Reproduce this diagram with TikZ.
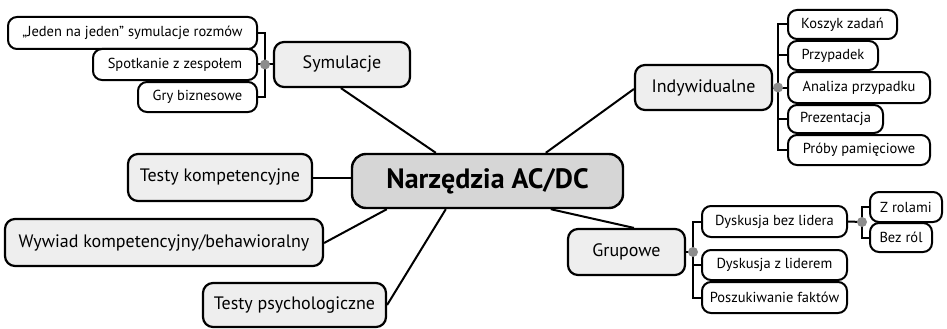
\documentclass[tikz,border=0pt]{standalone}
\usepackage{fontspec}
\setmainfont{PT Sans}
\definecolor{mainfill}{RGB}{238,238,238}
\definecolor{ctrfill}{RGB}{214,214,214}
\definecolor{dotc}{RGB}{140,140,140}
\begin{document}
\begin{tikzpicture}[x=1pt,y=-1pt,
  mainbox/.style={draw=black,line width=2.2pt,rounded corners=10pt,fill=mainfill,inner sep=0pt,font=\fontsize{18}{20}\selectfont},
  ctrbox/.style={draw=black,line width=2.4pt,rounded corners=14pt,fill=ctrfill,inner sep=0pt,font=\fontsize{28}{30}\selectfont\bfseries},
  subbox/.style={draw=black,line width=2pt,rounded corners=9pt,fill=white,inner sep=0pt,font=\fontsize{14.5}{16}\selectfont},
  conn/.style={line width=2pt},
  brk/.style={line width=2pt},
  dotst/.style={fill=dotc}]
\useasboundingbox (0,0) rectangle (947,329);
% subtree boxes first (so overlaps look right)
\node[subbox,minimum width=249pt,minimum height=32pt] (s1) at (132.5,33) {„Jeden na jeden” symulacje rozmów};
\node[subbox,minimum width=164pt,minimum height=31pt] (s2) at (175,64.5) {Spotkanie z zespołem};
\node[subbox,minimum width=119pt,minimum height=30pt] (s3) at (197.5,97) {Gry biznesowe};

\node[subbox,minimum width=109pt,minimum height=29pt] (i1) at (842.5,24.5) {Koszyk zadań};
\node[subbox,minimum width=90pt,minimum height=29pt] (i2) at (833,55.5) {Przypadek};
\node[subbox,minimum width=142pt,minimum height=31pt] (i3) at (859,87.5) {Analiza przypadku};
\node[subbox,minimum width=95pt,minimum height=28pt] (i4) at (835.5,119) {Prezentacja};
\node[subbox,minimum width=142pt,minimum height=30pt] (i5) at (859,150) {Próby pamięciowe};

\node[subbox,minimum width=145pt,minimum height=31pt] (g1) at (774.5,221.5) {Dyskusja bez lidera};
\node[subbox,minimum width=145pt,minimum height=30pt] (g2) at (774.5,265) {Dyskusja z liderem};
\node[subbox,minimum width=145pt,minimum height=31pt] (g3) at (774.5,297.5) {Poszukiwanie faktów};

\node[subbox,minimum width=72pt,minimum height=30pt] (z1) at (906,207) {Z rolami};
\node[subbox,minimum width=62pt,minimum height=29pt] (z2) at (901,237.5) {Bez ról};

% main nodes
\node[ctrbox,minimum width=271pt,minimum height=54pt] (ctr) at (487.5,181) {Narzędzia AC/DC};
\node[mainbox,minimum width=136pt,minimum height=45pt] (sym) at (342,64.5) {Symulacje};
\node[mainbox,minimum width=137pt,minimum height=45pt] (ind) at (703.5,87.5) {Indywidualne};
\node[mainbox,minimum width=117pt,minimum height=46pt] (grp) at (626.5,252) {Grupowe};
\node[mainbox,minimum width=184pt,minimum height=47pt] (tk) at (220,177.5) {Testy kompetencyjne};
\node[mainbox,minimum width=318pt,minimum height=47pt] (wy) at (164,242.5) {Wywiad kompetencyjny/behawioralny};
\node[mainbox,minimum width=183pt,minimum height=44pt] (tp) at (294.5,305) {Testy psychologiczne};

% connectors centre -> main
\draw[conn] ([xshift=68pt]sym.south west) -- ([xshift=85pt]ctr.north west);
\draw[conn] ([xshift=195pt]ctr.north west) -- ([yshift=-1.5pt]ind.west);
\draw[conn] (tk.east) -- (tk.east -| ctr.west);
\draw[conn] ([xshift=36pt]ctr.south west) -- ([yshift=-0.5pt]wy.east);
\draw[conn] ([xshift=95pt]ctr.south west) -- ([yshift=-0pt]tp.east);
\draw[conn] ([xshift=200pt]ctr.south west) -- ([xshift=67pt]grp.north west);

% brackets
\coordinate (bs) at (265,64.5);
\draw[brk] (s1.east) -| (bs) |- (s3.east);
\draw[brk] (s2.east) -- (bs) -- (sym.west);
\fill[dotst] (bs) circle (5pt);

\coordinate (bi) at (778,87.5);
\draw[brk] (i1.west) -| (bi) |- (i5.west);
\draw[brk] (i2.west) -| (bi);
\draw[brk] (i4.west) -| (bi);
\draw[brk] (i3.west) -- (bi) -- (ind.east);
\fill[dotst] (bi) circle (5pt);

\coordinate (bg) at (693,252);
\draw[brk] (g1.west) -| (bg) |- (g3.west);
\draw[brk] (g2.west) -| (bg);
\draw[brk] (grp.east) -- (bg);
\fill[dotst] (bg) circle (5pt);

\coordinate (bz) at (862,222);
\draw[brk] (z1.west) -| (bz) |- (z2.west);
\draw[brk] (g1.east) -- (bz);
\fill[dotst] (bz) circle (5pt);
\end{tikzpicture}
\end{document}
